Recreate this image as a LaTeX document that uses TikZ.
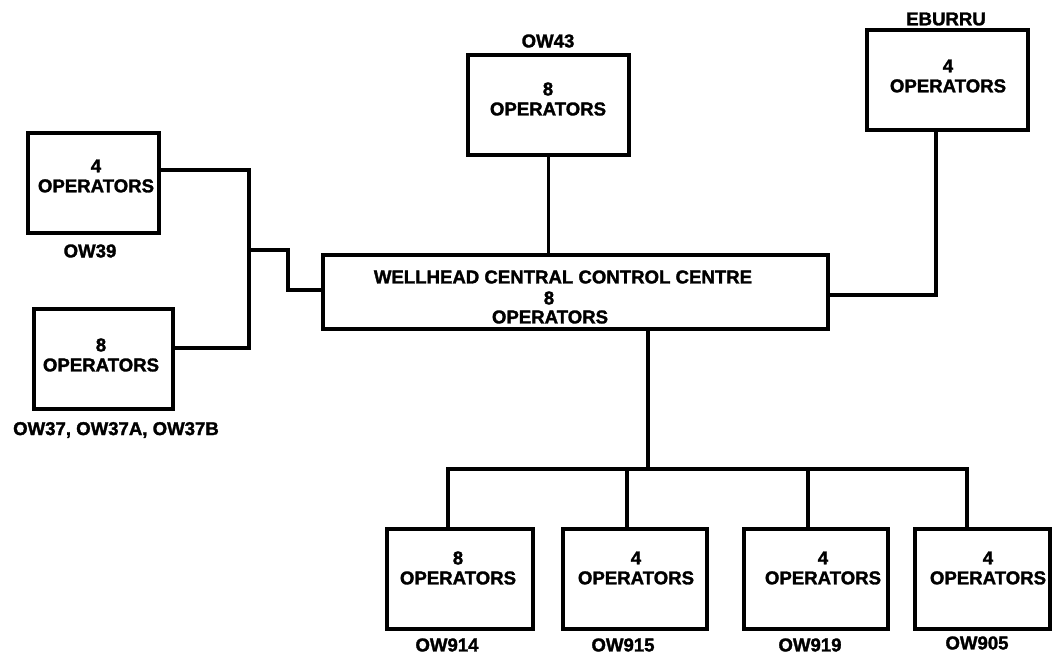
\documentclass[tikz,border=0pt]{standalone}
\usepackage{fontspec}
\setmainfont{Liberation Sans}[BoldFeatures={FakeBold=1.6}]
\begin{document}
\begin{tikzpicture}[x=1pt,y=-1pt,
  box/.style={draw, line width=3.2pt, outer sep=0pt, inner sep=0pt},
  txt/.style={font=\bfseries\fontsize{18.6}{20}\selectfont, align=center, inner sep=0pt},
  link/.style={line width=3.2pt, line join=miter}]
\useasboundingbox (0,0) rectangle (1053,654);

% stations on the left
\node[box, minimum width=131, minimum height=100] (ow39) at (93.5,183) {};
\node[txt] (ow39t) at (96,176) {4\\OPERATORS};
\node[txt] (ow39l) at (90,251) {OW39};

\node[box, minimum width=139, minimum height=100] (ow37) at (103.5,359) {};
\node[txt] (ow37t) at (101,355) {8\\OPERATORS};
\node[txt] (ow37l) at (116,430) {OW37, OW37A, OW37B};

% stations at the top
\node[box, minimum width=161, minimum height=100] (ow43) at (548.5,105) {};
\node[txt] (ow43t) at (548,99) {8\\OPERATORS};
\node[txt] (ow43l) at (548,41) {OW43};

\node[box, minimum width=161, minimum height=100] (ebu) at (947.5,80) {};
\node[txt] (ebut) at (948,76) {4\\OPERATORS};
\node[txt] (ebul) at (946,19) {EBURRU};

% central control centre
\node[box, minimum width=505, minimum height=74] (ctrl) at (575.5,292) {};
\node[txt] (ctrl1) at (563,277) {WELLHEAD CENTRAL CONTROL CENTRE};
\node[txt] (ctrl2) at (549,298) {8};
\node[txt] (ctrl3) at (550,317) {OPERATORS};

% stations at the bottom
\node[box, minimum width=146, minimum height=100] (ow914) at (460,579) {};
\node[txt] (ow914t) at (458,568) {8\\OPERATORS};
\node[txt] (ow914l) at (447,645) {OW914};

\node[box, minimum width=144, minimum height=100] (ow915) at (635,579) {};
\node[txt] (ow915t) at (636,568) {4\\OPERATORS};
\node[txt] (ow915l) at (623,645) {OW915};

\node[box, minimum width=144, minimum height=100] (ow919) at (816,579) {};
\node[txt] (ow919t) at (823,568) {4\\OPERATORS};
\node[txt] (ow919l) at (810,645) {OW919};

\node[box, minimum width=135, minimum height=100] (ow905) at (982.5,579) {};
\node[txt] (ow905t) at (988,568) {4\\OPERATORS};
\node[txt] (ow905l) at (977,643) {OW905};

% junction points of the wiring
\coordinate (wl) at (249,250);
\coordinate (wm) at (288,270);
\coordinate (bus) at (648,469);

% left group to the control centre
\draw[link] (ow39.east |- 0,170) -| (wl) |- (ow37.east |- 0,348);
\draw[link] (wl) -| (wm) |- (ctrl.west |- 0,290);

% top stations to the control centre
\draw[link] (ow43.south) -- (ctrl.north -| ow43.south);
\draw[link] (ctrl.east |- 0,295) -| (936,0 |- ebu.south);

% control centre down to the bus
\draw[link] (ctrl.south -| bus) -- (bus);
\draw[link] (ow914.north -| 448,0) |- (bus) -| (ow905.north -| 967,0);
\draw[link] (ow915.north -| 627,0) -- (627,469);
\draw[link] (ow919.north -| 808,0) -- (808,469);
\end{tikzpicture}
\end{document}
